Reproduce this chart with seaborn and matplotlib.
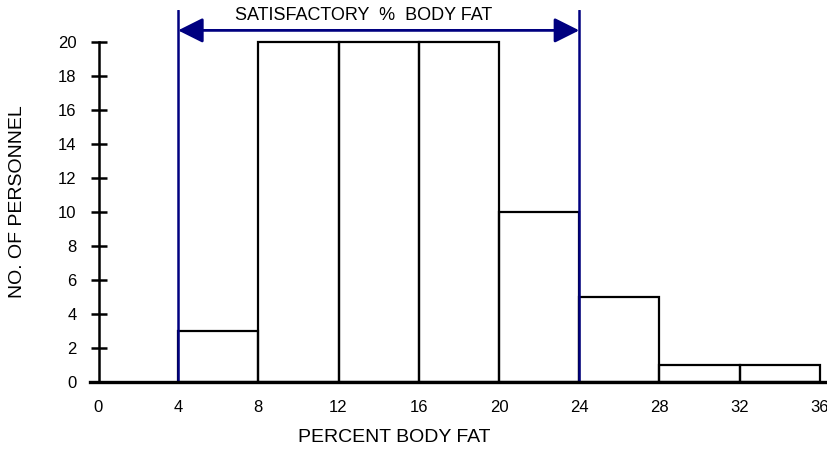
import matplotlib

matplotlib.use("Agg")

import matplotlib.pyplot as plt
import numpy as np
import seaborn as sns

# histogram bins (percent body fat) and counts
bin_edges = [4, 8, 12, 16, 20, 24, 28, 32, 36]
bin_lefts = [4, 8, 12, 16, 20, 24, 28, 32]
counts = [3, 20, 20, 20, 10, 5, 1, 1]
x_ticks = [0, 4, 8, 12, 16, 20, 24, 28, 32, 36]
y_ticks = [0, 2, 4, 6, 8, 10, 12, 14, 16, 18, 20]
satisfactory = [4, 24]

sns.set_theme(style="white")
plt.rcParams["font.family"] = ["Liberation Sans", "DejaVu Sans"]

fig = plt.figure(figsize=(8.28, 4.5), dpi=100)
ax = fig.add_axes([90 / 828, 68 / 450, 738 / 828, 372 / 450])

sns.histplot(x=bin_lefts, weights=counts, bins=bin_edges, fill=False,
             color="black", linewidth=1.6, ax=ax)

ax.set_xlim(-0.39, 36.4)
ax.set_ylim(0, 21.9)

for s in ["top", "right"]:
    ax.spines[s].set_visible(False)
ax.spines["left"].set_position(("data", 0.05))
ax.spines["left"].set_bounds(0, 20)
ax.spines["left"].set_linewidth(1.8)
ax.spines["left"].set_color("black")
ax.spines["bottom"].set_linewidth(2.4)
ax.spines["bottom"].set_color("black")

ax.set_xticks(x_ticks)
ax.set_yticks(y_ticks)
ax.tick_params(axis="x", length=0, pad=13, labelsize=12, colors="black")
ax.tick_params(axis="y", direction="inout", length=12, width=1.8, pad=10,
               labelsize=12, colors="black", left=True)

ax.set_xlabel("PERCENT BODY FAT", fontsize=14, color="black")
ax.xaxis.set_label_coords((394 - 90) / 738, -(437 - 382) / 372, transform=ax.transAxes)
ax.xaxis.label.set_va("center")
ax.set_ylabel("NO. OF PERSONNEL", fontsize=14, color="black")
ax.yaxis.set_label_coords((18 - 90) / 738, (382 - 202) / 372)
ax.yaxis.label.set_va("center")

for xv in satisfactory:
    ax.axvline(xv, ymin=0, ymax=1, color="#000080", linewidth=1.8)

ax.annotate("", xy=(satisfactory[0], 20.7), xytext=(satisfactory[1], 20.7),
            arrowprops=dict(arrowstyle="<|-|>", color="#000080", lw=2,
                            mutation_scale=38, shrinkA=0, shrinkB=0))
ax.text(np.mean(satisfactory) - 0.75, 21.6, "SATISFACTORY  %  BODY FAT",
        ha="center", va="center", fontsize=13, color="black")

fig.savefig("out.png", dpi=100, facecolor="white")
